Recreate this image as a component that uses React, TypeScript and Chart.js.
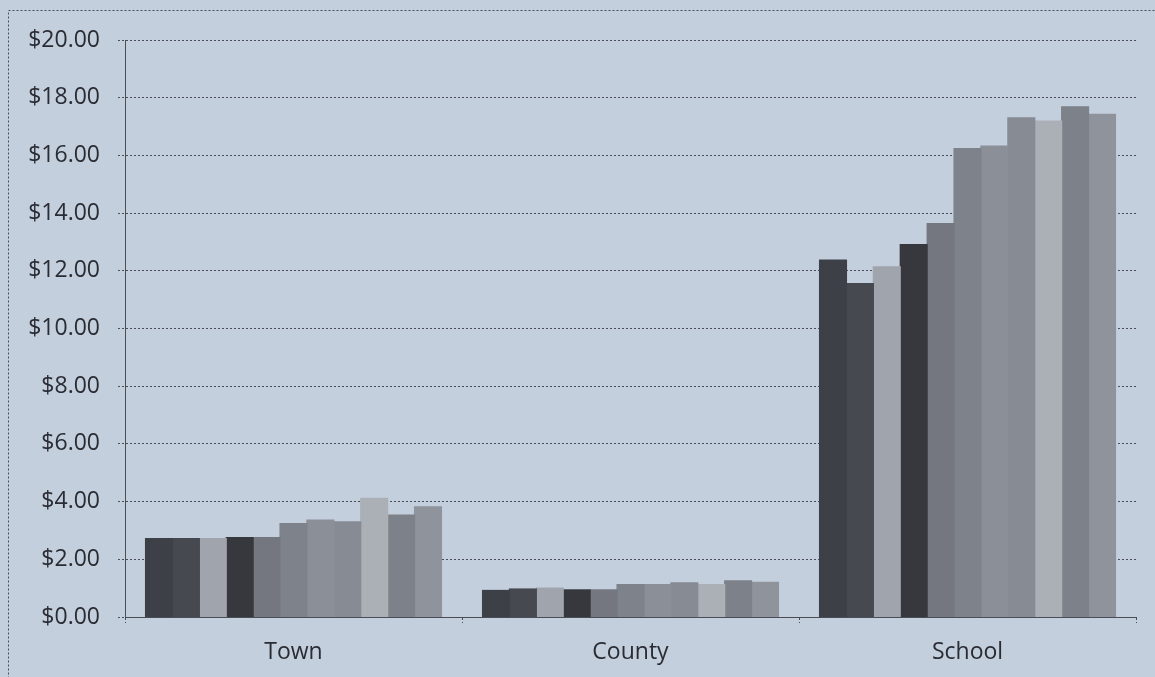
import React, { useEffect, useRef } from "react";
import { Chart, registerables } from "chart.js";

Chart.register(...registerables);

const categories = ["Town", "County", "School"];
const seriesNames = ["S1", "S2", "S3", "S4", "S5", "S6", "S7", "S8", "S9", "S10", "S11"];
const townValues = [2.72, 2.72, 2.72, 2.75, 2.75, 3.24, 3.36, 3.3, 4.11, 3.53, 3.82];
const countyValues = [0.92, 0.97, 1.0, 0.94, 0.94, 1.12, 1.12, 1.18, 1.12, 1.25, 1.2];
const schoolValues = [12.37, 11.56, 12.14, 12.91, 13.64, 16.24, 16.32, 17.3, 17.19, 17.68, 17.42];
const seriesColors = [
  "#3e4048", "#474950", "#a0a4ac", "#36383e", "#74777f", "#7e828a",
  "#8b8f97", "#878b93", "#abafb6", "#7d8189", "#8f939b",
];
const yTicks = [0, 2, 4, 6, 8, 10, 12, 14, 16, 18, 20];

const BG = "#c4cfde";
const LINE = "#4a4d55";

export default function App() {
  const ref = useRef<HTMLCanvasElement | null>(null);
  useEffect(() => {
    document.body.style.margin = "0";
    const ctx = ref.current!.getContext("2d")!;
    const datasets = seriesNames.map((name, i) => ({
      label: name,
      data: [townValues[i], countyValues[i], schoolValues[i]],
      backgroundColor: seriesColors[i],
      borderWidth: 0,
      inflateAmount: 0.6,
      barPercentage: 1,
      categoryPercentage: 0.878,
    }));
    const bgPlugin = {
      id: "bg",
      beforeDraw(chart: any) {
        const c = chart.ctx;
        c.save();
        c.fillStyle = BG;
        c.fillRect(0, 0, chart.width, chart.height);
        c.strokeStyle = LINE;
        c.lineWidth = 1;
        c.setLineDash([2, 2]);
        c.strokeRect(8.5, 10.5, chart.width + 20, chart.height + 20);
        c.restore();
      },
    };
    const chart = new Chart(ctx, {
      type: "bar",
      data: { labels: categories, datasets },
      plugins: [bgPlugin],
      options: {
        animation: false,
        responsive: false,
        layout: { padding: { left: 8, right: 19, top: 40, bottom: 0 } },
        plugins: { legend: { display: false }, tooltip: { enabled: false } },
        scales: {
          x: {
            grid: {
              offset: true,
              drawOnChartArea: false,
              drawTicks: true,
              tickLength: 6,
              color: LINE,
              tickBorderDash: [2, 2],
            },
            border: { display: true, color: LINE, dash: [2, 2] },
            ticks: {
              color: "#2a2c33",
              font: { family: "Open Sans", size: 23 },
              padding: 16,
            },
            afterFit: (s: any) => {
              s.height = 60;
            },
          },
          y: {
            min: 0,
            max: 20,
            afterBuildTicks: (s: any) => {
              s.ticks = yTicks.map((v) => ({ value: v }));
            },
            grid: {
              color: LINE,
              borderDash: [2, 2],
              tickLength: 7,
              tickBorderDash: [2, 2],
            },
            border: { display: true, color: LINE, dash: [2, 2] },
            ticks: {
              color: "#2a2c33",
              font: { family: "Open Sans", size: 23 },
              padding: 18,
              callback: (v: any) => "$" + Number(v).toFixed(2),
            },
            afterFit: (s: any) => {
              s.width = 117;
            },
          },
        },
      } as any,
    });
    return () => chart.destroy();
  }, []);
  return <canvas ref={ref} width={1155} height={677} style={{ display: "block" }} />;
}
